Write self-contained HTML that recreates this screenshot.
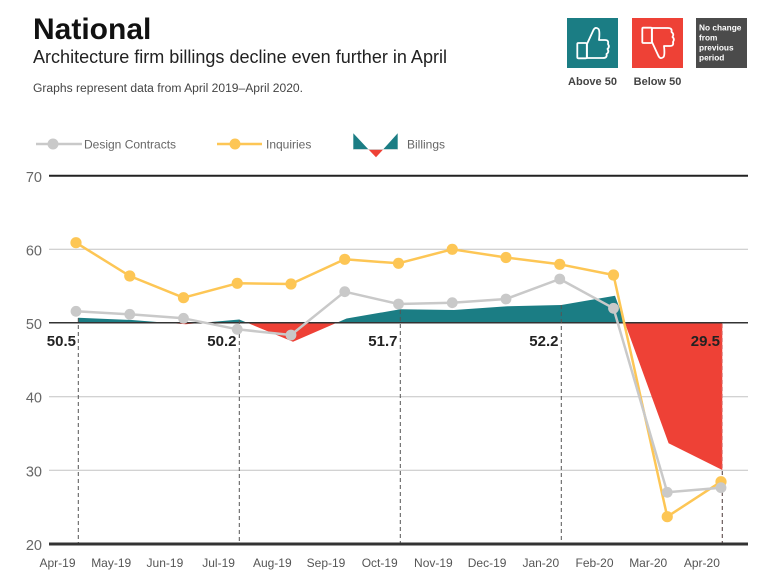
<!DOCTYPE html>
<html><head><meta charset="utf-8"><style>
html,body{margin:0;padding:0;background:#fff;}
svg{display:block;font-family:"Liberation Sans",Arial,sans-serif;}
</style></head><body>
<svg width="780" height="588" viewBox="0 0 780 588" xmlns="http://www.w3.org/2000/svg">
<defs>
<clipPath id="above"><rect x="0" y="0" width="780" height="322.7"/></clipPath>
<clipPath id="below"><rect x="0" y="322.7" width="780" height="300"/></clipPath>
</defs>
<!-- Header -->
<text x="33" y="39" font-size="30" font-weight="bold" fill="#111">National</text>
<text x="33" y="63" font-size="18" fill="#222" textLength="414" lengthAdjust="spacingAndGlyphs">Architecture firm billings decline even further in April</text>
<text x="33" y="92" font-size="11.5" fill="#444" textLength="270" lengthAdjust="spacingAndGlyphs">Graphs represent data from April 2019–April 2020.</text>

<!-- Icons -->
<rect x="567" y="18" width="51" height="50" fill="#1b7d84"/>
<g fill="none" stroke="#fff" stroke-width="1.8" stroke-linejoin="round">
<rect x="577.3" y="43" width="9.5" height="15.3" rx="1"/>
<path d="M587,44 L593,31 Q595,26 598.5,29 Q600,31 599,40 L605,40 Q609,40 608,44 Q610,47 607.5,49 Q609.5,52 606.5,54 Q607.5,58 603,58 L587,58 Z"/>
</g>
<rect x="632" y="18" width="51" height="50" fill="#ee4136"/>
<g fill="none" stroke="#fff" stroke-width="1.8" stroke-linejoin="round" transform="translate(65,86) scale(1,-1)">
<rect x="577.3" y="43" width="9.5" height="15.3" rx="1"/>
<path d="M587,44 L593,31 Q595,26 598.5,29 Q600,31 599,40 L605,40 Q609,40 608,44 Q610,47 607.5,49 Q609.5,52 606.5,54 Q607.5,58 603,58 L587,58 Z"/>
</g>
<rect x="696" y="18" width="51" height="50" fill="#4b4b4b"/>
<g font-size="8.3" font-weight="bold" fill="#fff">
<text x="699" y="30.5">No change</text>
<text x="699" y="40.5">from</text>
<text x="699" y="50.5">previous</text>
<text x="699" y="60.5">period</text>
</g>
<text x="592.5" y="85" font-size="11" font-weight="bold" fill="#444" text-anchor="middle">Above 50</text>
<text x="657.5" y="85" font-size="11" font-weight="bold" fill="#444" text-anchor="middle">Below 50</text>

<!-- Legend -->
<line x1="36" y1="144" x2="82" y2="144" stroke="#c9c9c9" stroke-width="2.5"/>
<circle cx="53" cy="144" r="5.5" fill="#c9c9c9"/>
<text x="84" y="148.3" font-size="12" fill="#666">Design Contracts</text>
<line x1="217" y1="144" x2="262" y2="144" stroke="#fdc655" stroke-width="2.5"/>
<circle cx="235" cy="144" r="5.5" fill="#fdc655"/>
<text x="266" y="148.3" font-size="12" fill="#666">Inquiries</text>
<polygon points="353.3,133.3 353.3,149.3 368.3,149.3" fill="#1b7d84"/>
<polygon points="397.7,133.3 397.7,149.3 383.3,149.3" fill="#1b7d84"/>
<polygon points="368.3,149.3 383.3,149.3 376,157.3" fill="#ee4136"/>
<line x1="353" y1="149.5" x2="398" y2="149.5" stroke="#cfd8d8" stroke-width="0.8"/>
<text x="407" y="148.3" font-size="12" fill="#666">Billings</text>

<!-- Gridlines -->
<g stroke="#c4c4c4" stroke-width="1">
<line x1="49" y1="249.3" x2="748" y2="249.3"/>
<line x1="49" y1="396.7" x2="748" y2="396.7"/>
<line x1="49" y1="470.3" x2="748" y2="470.3"/>
</g>
<line x1="49" y1="175.7" x2="748" y2="175.7" stroke="#222" stroke-width="2"/>

<!-- Y labels -->
<g font-size="14.5" fill="#666" text-anchor="end">
<text x="42" y="182">70</text>
<text x="42" y="255.5">60</text>
<text x="42" y="329">50</text>
<text x="42" y="402.7">40</text>
<text x="42" y="476.3">30</text>
<text x="42" y="550">20</text>
</g>

<!-- Billings area -->
<g>
<polygon clip-path="url(#above)" fill="#1b7d84" points="78.3,322.7 78.3,317.7 132,320 185.6,324.3 239.3,319.5 293,341.7 346.6,318.5 400.3,309.3 454,310 507.6,306.3 561.3,305 615,295.7 668.6,443.3 722.3,470 722.3,322.7"/>
<polygon clip-path="url(#below)" fill="#ee4136" points="78.3,322.7 78.3,317.7 132,320 185.6,324.3 239.3,319.5 293,341.7 346.6,318.5 400.3,309.3 454,310 507.6,306.3 561.3,305 615,295.7 668.6,443.3 722.3,470 722.3,322.7"/>
</g>

<!-- 50 line -->
<line x1="49" y1="322.7" x2="748" y2="322.7" stroke="#333" stroke-width="1.5"/>

<!-- dashed verticals -->
<g stroke="#555" stroke-width="1" stroke-dasharray="4,3">
<line x1="78.3" y1="318" x2="78.3" y2="544"/>
<line x1="239.3" y1="320" x2="239.3" y2="544"/>
<line x1="400.3" y1="310" x2="400.3" y2="544"/>
<line x1="561.3" y1="305" x2="561.3" y2="544"/>
<line x1="722.3" y1="324" x2="722.3" y2="544" stroke="#d88"/>
<line x1="722.3" y1="471" x2="722.3" y2="544"/>
</g>

<!-- Billing labels -->
<g font-size="15" font-weight="bold" fill="#222" text-anchor="end">
<text x="76" y="346">50.5</text>
<text x="236.5" y="346">50.2</text>
<text x="397.5" y="346">51.7</text>
<text x="558.5" y="346">52.2</text>
<text x="720" y="346">29.5</text>
</g>

<!-- Inquiries -->
<polyline fill="none" stroke="#fdc655" stroke-width="2.5" stroke-linejoin="round" points="76,242.7 129.75,276 183.5,297.7 237.25,283.3 291,284 344.75,259.3 398.5,263.3 452.25,249.3 506,257.5 559.75,264.3 613.5,275 667.25,516.7 721,481.7"/>
<g fill="#fdc655">
<circle cx="76" cy="242.7" r="5.6"/><circle cx="129.75" cy="276" r="5.6"/><circle cx="183.5" cy="297.7" r="5.6"/><circle cx="237.25" cy="283.3" r="5.6"/><circle cx="291" cy="284" r="5.6"/><circle cx="344.75" cy="259.3" r="5.6"/><circle cx="398.5" cy="263.3" r="5.6"/><circle cx="452.25" cy="249.3" r="5.6"/><circle cx="506" cy="257.5" r="5.6"/><circle cx="559.75" cy="264.3" r="5.6"/><circle cx="613.5" cy="275" r="5.6"/><circle cx="667.25" cy="516.7" r="5.6"/><circle cx="721" cy="481.7" r="5.6"/>
</g>

<!-- Design Contracts -->
<polyline fill="none" stroke="#c9c9c9" stroke-width="2.5" stroke-linejoin="round" points="76,311.3 129.75,314.3 183.5,318.3 237.25,329.3 291,335 344.75,291.7 398.5,304 452.25,302.7 506,299 559.75,279 613.5,308.3 667.25,492.3 721,487.7"/>
<g fill="#c9c9c9">
<circle cx="76" cy="311.3" r="5.4"/><circle cx="129.75" cy="314.3" r="5.4"/><circle cx="183.5" cy="318.3" r="5.4"/><circle cx="237.25" cy="329.3" r="5.4"/><circle cx="291" cy="335" r="5.4"/><circle cx="344.75" cy="291.7" r="5.4"/><circle cx="398.5" cy="304" r="5.4"/><circle cx="452.25" cy="302.7" r="5.4"/><circle cx="506" cy="299" r="5.4"/><circle cx="559.75" cy="279" r="5.4"/><circle cx="613.5" cy="308.3" r="5.4"/><circle cx="667.25" cy="492.3" r="5.4"/><circle cx="721" cy="487.7" r="5.4"/>
</g>

<!-- X axis -->
<line x1="49" y1="544" x2="748" y2="544" stroke="#333" stroke-width="3"/>
<g font-size="12" fill="#555" text-anchor="middle">
<text x="57.5" y="567">Apr-19</text>
<text x="111.2" y="567">May-19</text>
<text x="164.9" y="567">Jun-19</text>
<text x="218.6" y="567">Jul-19</text>
<text x="272.3" y="567">Aug-19</text>
<text x="326" y="567">Sep-19</text>
<text x="379.7" y="567">Oct-19</text>
<text x="433.4" y="567">Nov-19</text>
<text x="487.1" y="567">Dec-19</text>
<text x="540.8" y="567">Jan-20</text>
<text x="594.5" y="567">Feb-20</text>
<text x="648.2" y="567">Mar-20</text>
<text x="701.9" y="567">Apr-20</text>
</g>
</svg>
</body></html>
